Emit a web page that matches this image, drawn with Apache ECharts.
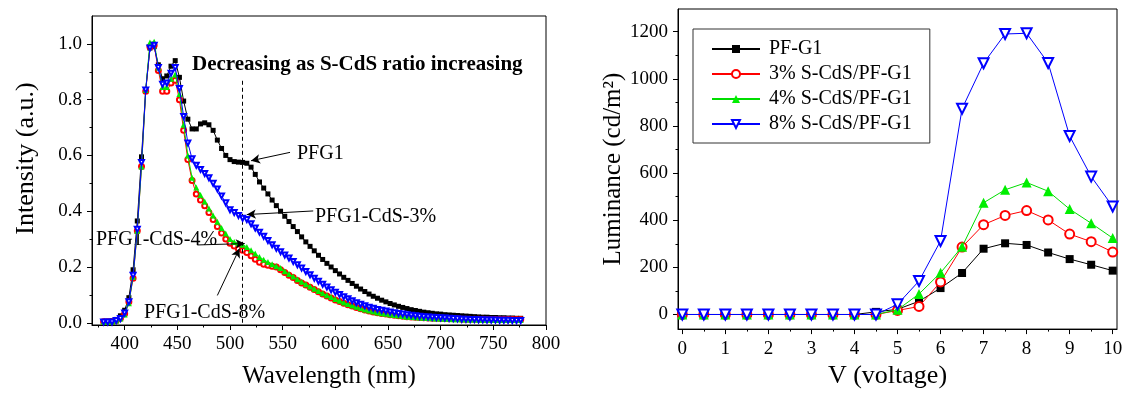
<!DOCTYPE html>
<html><head><meta charset="utf-8">
<script src="https://cdn.jsdelivr.net/npm/echarts@6/dist/echarts.min.js"></script>
<style>html,body{margin:0;padding:0;background:#fff}#c{width:1126px;height:394px}</style>
</head><body><div id="c"></div>
<script>
// ---------- Left chart: PL spectra ----------
const wavelength = [
  380,384,388,392,396,400,404,408,412,416,
  420,424,428,432,436,440,444,448,452,456,
  460,464,468,472,476,480,484,488,492,496,
  500,504,508,512,516,520,524,528,532,536,
  540,544,548,552,556,560,564,568,572,576,
  580,584,588,592,596,600,604,608,612,616,
  620,624,628,632,636,640,644,648,652,656,
  660,664,668,672,676,680,684,688,692,696,
  700,704,708,712,716,720,724,728,732,736,
  740,744,748,752,756,760,764,768,772,776];
const pfg1 = [
  .005,.005,.007,.012,.025,.045,.09,.19,.365,.595,
  .835,.985,.99,.925,.875,.885,.92,.94,.88,.795,
  .73,.695,.695,.713,.717,.71,.69,.655,.625,.60,
  .585,.578,.576,.575,.572,.558,.532,.505,.483,.462,
  .44,.42,.40,.382,.363,.345,.327,.308,.29,.274,
  .258,.242,.227,.213,.2,.187,.175,.163,.152,.141,
  .131,.121,.112,.103,.095,.088,.081,.075,.069,.064,
  .059,.055,.051,.047,.044,.041,.038,.036,.034,.032,
  .031,.029,.028,.027,.026,.025,.024,.023,.022,.021,
  .02,.02,.019,.019,.018,.018,.017,.017,.016,.016];
const pfg1CdS8 = [
  .004,.004,.004,.008,.016,.032,.075,.16,.33,.56,
  .83,.99,.995,.905,.83,.83,.86,.87,.80,.69,
  .585,.51,.462,.44,.42,.395,.37,.345,.322,.30,
  .285,.275,.265,.26,.252,.24,.228,.217,.21,.206,
  .203,.2,.19,.18,.17,.162,.152,.143,.135,.127,
  .119,.111,.103,.096,.089,.082,.076,.07,.065,.06,
  .055,.05,.046,.042,.039,.036,.033,.031,.029,.027,
  .025,.023,.022,.021,.02,.019,.018,.017,.016,.016,
  .015,.015,.014,.014,.014,.013,.013,.013,.013,.013,
  .013,.012,.012,.012,.012,.012,.012,.012,.012,.012];
const pfg1CdS4 = [
  .004,.004,.004,.008,.015,.03,.07,.165,.33,.56,
  .835,1.005,1.008,.915,.845,.845,.875,.89,.82,.71,
  .60,.52,.485,.458,.435,.41,.385,.362,.34,.32,
  .30,.29,.285,.28,.272,.26,.248,.236,.226,.218,
  .21,.203,.196,.185,.175,.166,.156,.147,.138,.13,
  .122,.114,.106,.099,.092,.085,.079,.073,.067,.062,
  .057,.052,.048,.044,.04,.037,.034,.032,.03,.028,
  .026,.024,.022,.021,.02,.019,.018,.017,.016,.015,
  .015,.014,.014,.013,.013,.013,.012,.012,.012,.011,
  .011,.011,.011,.01,.01,.01,.01,.01,.01,.01];
const pfg1CdS3 = [
  .003,.003,.003,.008,.015,.035,.075,.17,.335,.575,
  .835,.985,.995,.915,.855,.86,.895,.915,.84,.74,
  .645,.588,.565,.55,.535,.52,.50,.48,.455,.43,
  .405,.395,.385,.375,.37,.355,.34,.325,.31,.295,
  .28,.267,.255,.243,.232,.22,.208,.196,.184,.172,
  .16,.149,.138,.128,.118,.109,.101,.093,.086,.079,
  .072,.066,.061,.056,.052,.048,.045,.042,.039,.036,
  .033,.031,.029,.027,.025,.023,.022,.021,.02,.019,
  .018,.017,.016,.015,.014,.013,.013,.012,.012,.011,
  .011,.01,.01,.01,.009,.009,.009,.008,.008,.008];
const leftXTicks = [400,450,500,550,600,650,700,750,800];
const leftYTicks = [0,0.2,0.4,0.6,0.8,1.0];
const markerWavelength = 512;

// ---------- Right chart: luminance ----------
const voltage = [0,0.5,1,1.5,2,2.5,3,3.5,4,4.5,5,5.5,6,6.5,7,7.5,8,8.5,9,9.5,10];
const lumPFG1 = [0,0,0,0,0,0,0,0,0,11,22,56,112,176,279,302,295,263,235,211,186];
const lum3 = [0,0,0,0,0,0,0,0,0,0,17,34,138,286,381,420,441,401,341,309,265];
const lum4 = [0,0,0,0,0,0,0,0,0,0,20,87,177,287,474,529,560,523,447,387,324];
const lum8 = [0,0,0,0,0,0,0,0,0,0,43,142,312,873,1066,1190,1193,1067,757,585,458];
const rightXTicks = [0,1,2,3,4,5,6,7,8,9,10];
const rightYTicks = [0,200,400,600,800,1000,1200];

const F = '"Liberation Serif", "Times New Roman", serif';
const pair = (xs, ys) => xs.map((x, i) => [x, ys[i]]);

function vAxis(o) {
  return Object.assign({
    type: 'value',
    nameLocation: 'middle',
    axisLine: {show: true, onZero: false, lineStyle: {color: '#000', width: 1}},
    splitLine: {show: false},
    minorTick: {show: true, splitNumber: 2, length: 2.5, lineStyle: {color: '#000', width: 1}},
    nameTextStyle: {fontFamily: F, fontSize: 25, color: '#000'}
  }, o);
}
function ticks(vals) {
  return {show: true, inside: false, length: 5, customValues: vals, lineStyle: {color: '#000', width: 1}};
}
function labels(vals, fmt) {
  return {show: true, customValues: vals, fontFamily: F, fontSize: 19, color: '#000', margin: 10,
    formatter: fmt || (v => String(v)), showMinLabel: true, showMaxLabel: true};
}

const chart = echarts.init(document.getElementById('c'), null, {renderer: 'canvas'});
chart.setOption({
  animation: false,
  backgroundColor: '#fff',
  grid: [
    {left: 92, top: 16, width: 454, height: 316, show: true, borderColor: '#000', borderWidth: 1, backgroundColor: 'transparent'},
    {left: 678, top: 9, width: 439, height: 322, show: true, borderColor: '#000', borderWidth: 1, backgroundColor: 'transparent'}
  ],
  xAxis: [
    vAxis({gridIndex: 0, min: 369, max: 800, minInterval: 50, maxInterval: 50,
      name: 'Wavelength (nm)', nameGap: 39,
      nameTextStyle: {fontFamily: F, fontSize: 25, color: '#000', padding: [0, 0, 0, 20]},
      axisTick: ticks(leftXTicks), axisLabel: labels(leftXTicks)}),
    vAxis({gridIndex: 1, min: -0.1, max: 10.1, minInterval: 1, maxInterval: 1,
      name: 'V (voltage)', nameGap: 30,
      nameTextStyle: {fontFamily: F, fontSize: 26, color: '#000', padding: [0, 20, 0, 0]},
      axisTick: ticks(rightXTicks), axisLabel: labels(rightXTicks)})
  ],
  yAxis: [
    vAxis({gridIndex: 0, min: -0.008, max: 1.1, minInterval: 0.2, maxInterval: 0.2,
      name: 'Intensity (a.u.)', nameGap: 53,
      nameTextStyle: {fontFamily: F, fontSize: 26, color: '#000', padding: [0, 0, 0, 24]},
      axisTick: ticks(leftYTicks), axisLabel: labels(leftYTicks, v => Number(v).toFixed(1))}),
    vAxis({gridIndex: 1, min: -62, max: 1296, minInterval: 200, maxInterval: 200,
      name: 'Luminance (cd/m²)', nameGap: 52,
      nameTextStyle: {fontFamily: F, fontSize: 25, color: '#000', padding: [0, 0, 0, 0]},
      axisTick: ticks(rightYTicks), axisLabel: labels(rightYTicks)})
  ],
  legend: {
    show: true, orient: 'vertical', left: 693, top: 29,
    data: ['PF-G1', '3% S-CdS/PF-G1', '4% S-CdS/PF-G1', '8% S-CdS/PF-G1'],
    itemWidth: 48, itemHeight: 10, itemGap: 5,
    padding: [10, 18, 9, 18],
    borderColor: '#333', borderWidth: 1, backgroundColor: '#fff',
    textStyle: {fontFamily: F, fontSize: 20, color: '#000', lineHeight: 20, padding: [0, 0, 0, 4]}
  },
  graphic: [
    {type: 'text', x: 192, y: 65, style: {text: 'Decreasing as S-CdS ratio increasing', font: 'bold 21px ' + F, fill: '#000', verticalAlign: 'middle', align: 'left'}},
    {type: 'text', x: 297, y: 154, style: {text: 'PFG1', font: '20px ' + F, fill: '#000', verticalAlign: 'middle'}},
    {type: 'text', x: 315, y: 217, style: {text: 'PFG1-CdS-3%', font: '20px ' + F, fill: '#000', verticalAlign: 'middle'}},
    {type: 'text', x: 96, y: 240, style: {text: 'PFG1-CdS-4%', font: '20px ' + F, fill: '#000', verticalAlign: 'middle'}},
    {type: 'text', x: 144, y: 313, style: {text: 'PFG1-CdS-8%', font: '20px ' + F, fill: '#000', verticalAlign: 'middle'}}
  ],
  series: [
    {name: 'PFG1', type: 'line', xAxisIndex: 0, yAxisIndex: 0, data: pair(wavelength, pfg1),
      symbol: 'rect', symbolSize: 5, itemStyle: {color: '#000'}, lineStyle: {color: '#000', width: 1}, z: 2,
      markLine: {silent: true, symbol: ['none', 'arrow'], symbolSize: [7, 9], label: {show: false},
        lineStyle: {color: '#000', width: 1, type: 'solid'},
        data: [
          [{coord: [557, 0.611]}, {coord: [520, 0.581]}],
          [{coord: [579, 0.401]}, {coord: [516, 0.388]}],
          [{coord: [469, 0.279]}, {coord: [514, 0.284]}],
          [{coord: [488, 0.098]}, {coord: [509, 0.266]}]
        ]}},
    {name: 'PFG1-CdS-8%', type: 'line', xAxisIndex: 0, yAxisIndex: 0, data: pair(wavelength, pfg1CdS8),
      symbol: 'emptyCircle', symbolSize: 5, itemStyle: {color: '#ff0000', borderWidth: 1}, lineStyle: {color: '#ff0000', width: 1}, z: 3,
      markLine: {silent: true, symbol: 'none', label: {show: false},
        lineStyle: {color: '#000', width: 1, type: [4, 3]},
        data: [[{coord: [markerWavelength, 0]}, {coord: [markerWavelength, 0.869]}]]}},
    {name: 'PFG1-CdS-4%', type: 'line', xAxisIndex: 0, yAxisIndex: 0, data: pair(wavelength, pfg1CdS4),
      symbol: 'triangle', symbolSize: 6, itemStyle: {color: '#00ee00'}, lineStyle: {color: '#00dd00', width: 1}, z: 4},
    {name: 'PFG1-CdS-3%', type: 'line', xAxisIndex: 0, yAxisIndex: 0, data: pair(wavelength, pfg1CdS3),
      symbol: 'emptyTriangle', symbolRotate: 180, symbolSize: 5, itemStyle: {color: '#0000ff', borderWidth: 1}, lineStyle: {color: '#0000ff', width: 1}, z: 5},

    {name: 'PF-G1', type: 'line', xAxisIndex: 1, yAxisIndex: 1, data: pair(voltage, lumPFG1),
      symbol: 'rect', symbolSize: 8, itemStyle: {color: '#000'}, lineStyle: {color: '#000', width: 1}, z: 2},
    {name: '3% S-CdS/PF-G1', type: 'line', xAxisIndex: 1, yAxisIndex: 1, data: pair(voltage, lum3),
      symbol: 'emptyCircle', symbolSize: 9, itemStyle: {color: '#ff0000', borderWidth: 1}, lineStyle: {color: '#ff0000', width: 1}, z: 3},
    {name: '4% S-CdS/PF-G1', type: 'line', xAxisIndex: 1, yAxisIndex: 1, data: pair(voltage, lum4),
      symbol: 'triangle', symbolSize: 10, itemStyle: {color: '#00ee00'}, lineStyle: {color: '#00dd00', width: 1}, z: 4},
    {name: '8% S-CdS/PF-G1', type: 'line', xAxisIndex: 1, yAxisIndex: 1, data: pair(voltage, lum8),
      symbol: 'emptyTriangle', symbolRotate: 180, symbolSize: 10, itemStyle: {color: '#0000ff', borderWidth: 1}, lineStyle: {color: '#0000ff', width: 1}, z: 5}
  ]
});
</script></body></html>
